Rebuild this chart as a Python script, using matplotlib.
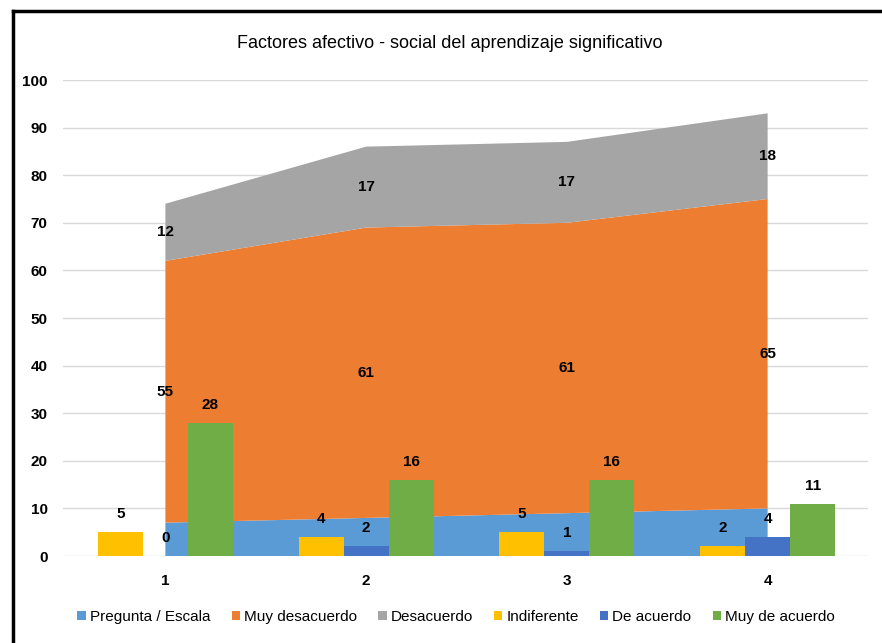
import matplotlib.pyplot as plt
import numpy as np
from matplotlib.lines import Line2D

plt.rcParams['font.family'] = ['Liberation Sans Narrow', 'Liberation Sans', 'DejaVu Sans']

preguntas = [1, 2, 3, 4]
pregunta_escala = [7, 8, 9, 10]
muy_desacuerdo = [55, 61, 61, 65]
desacuerdo = [12, 17, 17, 18]
indiferente = [5, 4, 5, 2]
de_acuerdo = [0, 2, 1, 4]
muy_de_acuerdo = [28, 16, 16, 11]

c_azul = '#5B9BD5'
c_naranja = '#ED7D31'
c_gris = '#A5A5A5'
c_amarillo = '#FFC000'
c_azul2 = '#4472C4'
c_verde = '#70AD47'

fig = plt.figure(figsize=(8.82, 6.43), dpi=100)
ax = fig.add_axes([63/882, 1 - 556/643, 805/882, 476/643])

x = np.array(preguntas)
areas = ax.stackplot(x, pregunta_escala, muy_desacuerdo, desacuerdo,
                     colors=[c_azul, c_naranja, c_gris],
                     labels=['Pregunta / Escala', 'Muy desacuerdo', 'Desacuerdo'],
                     zorder=2, linewidth=0)

# etiquetas en el centro de cada franja (la azul no lleva)
base = np.array(pregunta_escala, dtype=float)
for serie in (muy_desacuerdo, desacuerdo):
    s = np.array(serie, dtype=float)
    for xi, b, v in zip(x, base, s):
        ax.text(xi, b + v / 2, str(int(v)), ha='center', va='center',
                fontsize=11, fontweight='bold', zorder=5)
    base = base + s

w = 0.224
barras = []
for k, (vals, col, lab) in enumerate([(indiferente, c_amarillo, 'Indiferente'),
                                      (de_acuerdo, c_azul2, 'De acuerdo'),
                                      (muy_de_acuerdo, c_verde, 'Muy de acuerdo')]):
    b = ax.bar(x + (k - 1) * w, vals, width=w, color=col, label=lab, zorder=3)
    ax.bar_label(b, padding=8, fontsize=11, fontweight='bold', zorder=5)
    barras.append(b)

ax.set_xlim(0.49, 4.5)
ax.set_ylim(0, 100)
ax.set_yticks(range(0, 101, 10))
ax.set_xticks(preguntas)
ax.grid(axis='y', color='#D9D9D9', linewidth=1, zorder=0)
ax.set_axisbelow(True)
for sp in ax.spines.values():
    sp.set_visible(False)
ax.tick_params(axis='y', length=0, labelsize=11, pad=11)
ax.tick_params(axis='x', length=0, labelsize=11, pad=13)
for t in ax.get_xticklabels() + ax.get_yticklabels():
    t.set_fontweight('bold')

fig.text(450/882, 1 - 44/643, 'Factores afectivo - social del aprendizaje significativo',
         ha='center', va='center', fontsize=13)

handles = list(areas) + barras
labels = ['Pregunta / Escala', 'Muy desacuerdo', 'Desacuerdo',
          'Indiferente', 'De acuerdo', 'Muy de acuerdo']
fig.legend(handles, labels, loc='center', bbox_to_anchor=(456/882, 1 - 617/643),
           ncol=6, frameon=False, fontsize=11, handlelength=0.55, handleheight=0.55,
           handletextpad=0.25, columnspacing=1.4)

# marco negro del gráfico (solo se ven el borde superior y el izquierdo)
fig.add_artist(Line2D([13/882, 1], [1 - 11/643, 1 - 11/643], color='black', lw=2.5,
                      transform=fig.transFigure))
fig.add_artist(Line2D([13/882, 13/882], [0, 1 - 11/643], color='black', lw=2.5,
                      transform=fig.transFigure))

fig.savefig('out.png', dpi=100)
